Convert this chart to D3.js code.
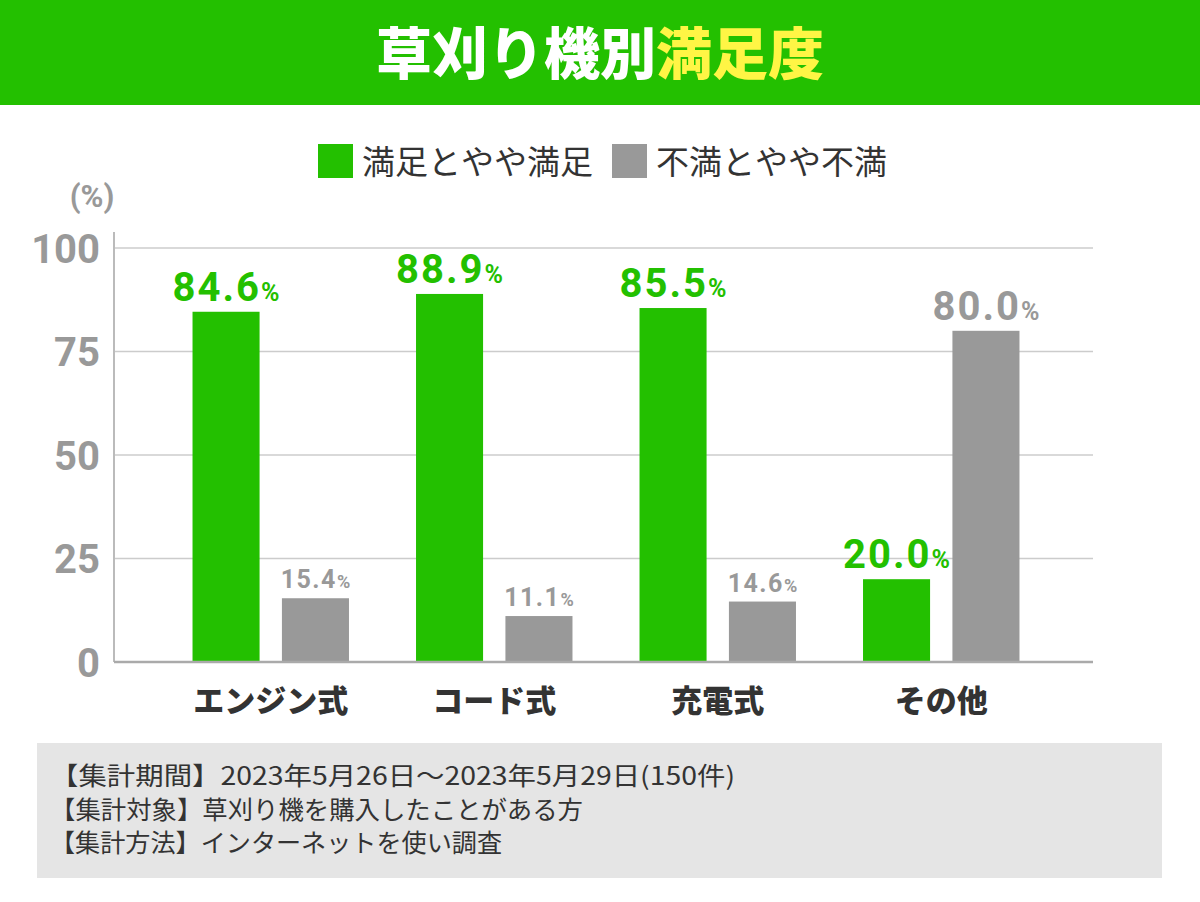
<!DOCTYPE html>
<html lang="ja">
<head>
<meta charset="UTF-8">
<title>草刈り機別満足度</title>
<script src="https://d3js.org/d3.v7.min.js"></script>
<style>
    body { margin: 0; background: #fff; }
    svg { display: block; }
</style>
</head>
<body>
<div id="chart"></div>
<script>
    const categories = ["エンジン式", "コード式", "充電式", "その他"];
    const seriesNames = ["満足とやや満足", "不満とやや不満"];
    const satisfied = [84.6, 88.9, 85.5, 20.0];
    const dissatisfied = [15.4, 11.1, 14.6, 80.0];
    const yTicks = [0, 25, 50, 75, 100];
    const notes = [
        "【集計期間】2023年5月26日～2023年5月29日(150件)",
        "【集計対象】草刈り機を購入したことがある方",
        "【集計方法】インターネットを使い調査"
    ];
    const noteWidths = [685, 533, 452];

    const green = "#23c000", gray = "#999999";
    const colors = [green, gray];
    const jp = "'Noto Sans CJK JP', 'Noto Sans', sans-serif";
    const num = "Roboto, 'DejaVu Sans', sans-serif";

    const width = 1200, height = 902;
    const svg = d3.select("#chart").append("svg")
        .attr("width", width)
        .attr("height", height);

    // header band
    svg.append("rect")
        .attr("x", 0).attr("y", 0)
        .attr("width", width).attr("height", 105)
        .attr("fill", green);

    const title = svg.append("text")
        .attr("x", 600).attr("y", 74)
        .attr("text-anchor", "middle")
        .attr("font-family", jp)
        .attr("font-weight", 900)
        .attr("font-size", 56);
    title.append("tspan").attr("fill", "#fff").text("草刈り機別");
    title.append("tspan").attr("fill", "#fff545").text("満足度");

    // legend
    const legendX = [318, 612];
    seriesNames.forEach((name, i) => {
        svg.append("rect")
            .attr("x", legendX[i]).attr("y", 144)
            .attr("width", 35).attr("height", 34)
            .attr("fill", colors[i]);
        svg.append("text")
            .attr("x", legendX[i] + 44).attr("y", 174)
            .attr("font-family", jp)
            .attr("font-size", 33)
            .attr("fill", "#333")
            .text(name);
    });

    // scales
    const y = d3.scaleLinear().domain([0, 100]).range([662, 248]);
    const x0 = d3.scaleBand().domain(categories).range([159, 1053])
        .paddingInner(0.3).paddingOuter(0.15);
    const x1 = d3.scaleBand().domain([0, 1]).range([0, x0.bandwidth()])
        .paddingInner(0.25).paddingOuter(0);

    const plotLeft = 114, plotRight = 1093;

    // grid
    svg.append("g")
        .selectAll("line")
        .data(yTicks.filter(t => t > 0))
        .join("line")
        .attr("x1", plotLeft).attr("x2", plotRight)
        .attr("y1", d => y(d)).attr("y2", d => y(d))
        .attr("stroke", "#cccccc")
        .attr("stroke-width", 1.5);

    // y axis
    const yAxis = svg.append("g")
        .attr("transform", `translate(${plotLeft},0)`)
        .call(d3.axisLeft(y).tickValues(yTicks).tickSize(0).tickPadding(14));
    yAxis.select(".domain")
        .attr("d", `M0,${y(100) - 16}V${y(0)}`)
        .attr("stroke", "#bbbbbb")
        .attr("stroke-width", 2);
    yAxis.selectAll("text")
        .attr("font-family", num)
        .attr("font-weight", 700)
        .attr("font-size", 40)
        .attr("fill", gray)
        .attr("dy", "0.36em");

    svg.append("text")
        .attr("x", 92).attr("y", 207)
        .attr("text-anchor", "middle")
        .attr("font-family", num)
        .attr("font-weight", 700)
        .attr("font-size", 31)
        .attr("fill", gray)
        .text("(%)");

    // bars
    const rows = categories.map((c, i) => ({cat: c, vals: [satisfied[i], dissatisfied[i]]}));
    const groups = svg.append("g")
        .selectAll("g")
        .data(rows)
        .join("g")
        .attr("transform", d => `translate(${x0(d.cat)},0)`);

    const items = groups.selectAll("g")
        .data(d => d.vals.map((v, s) => ({v, s, big: s === 0 || v >= 50})))
        .join("g");

    items.append("rect")
        .attr("x", d => x1(d.s))
        .attr("width", x1.bandwidth())
        .attr("y", d => y(d.v))
        .attr("height", d => y(0) - y(d.v))
        .attr("fill", d => colors[d.s]);

    const labels = items.append("text")
        .attr("x", d => x1(d.s) + x1.bandwidth() / 2)
        .attr("y", d => y(d.v) - (d.big ? 11 : 10))
        .attr("text-anchor", "middle")
        .attr("font-family", num)
        .attr("font-weight", 700)
        .attr("fill", d => colors[d.s]);
    labels.append("tspan")
        .attr("font-size", d => d.big ? 40 : 25)
        .attr("letter-spacing", d => d.big ? 2 : 1.5)
        .text(d => d.v.toFixed(1));
    labels.append("tspan")
        .attr("font-size", d => d.big ? 25 : 18)
        .text("%");

    // baseline
    svg.append("line")
        .attr("x1", plotLeft).attr("x2", plotRight)
        .attr("y1", y(0)).attr("y2", y(0))
        .attr("stroke", "#aaaaaa")
        .attr("stroke-width", 2.5);

    // category labels
    svg.append("g")
        .selectAll("text")
        .data(categories)
        .join("text")
        .attr("x", d => x0(d) + x0.bandwidth() / 2)
        .attr("y", 712)
        .attr("text-anchor", "middle")
        .attr("font-family", jp)
        .attr("font-weight", 900)
        .attr("font-size", 31)
        .attr("fill", "#333")
        .text(d => d);

    // notes box
    svg.append("rect")
        .attr("x", 37).attr("y", 743)
        .attr("width", 1125).attr("height", 135)
        .attr("fill", "#e5e5e5");
    svg.append("g")
        .selectAll("text")
        .data(notes)
        .join("text")
        .attr("x", 50)
        .attr("y", (d, i) => 785 + i * 33.5)
        .attr("font-family", jp)
        .attr("font-size", 25)
        .attr("textLength", (d, i) => noteWidths[i])
        .attr("lengthAdjust", "spacingAndGlyphs")
        .attr("fill", "#333")
        .text(d => d);
</script>
</body>
</html>
